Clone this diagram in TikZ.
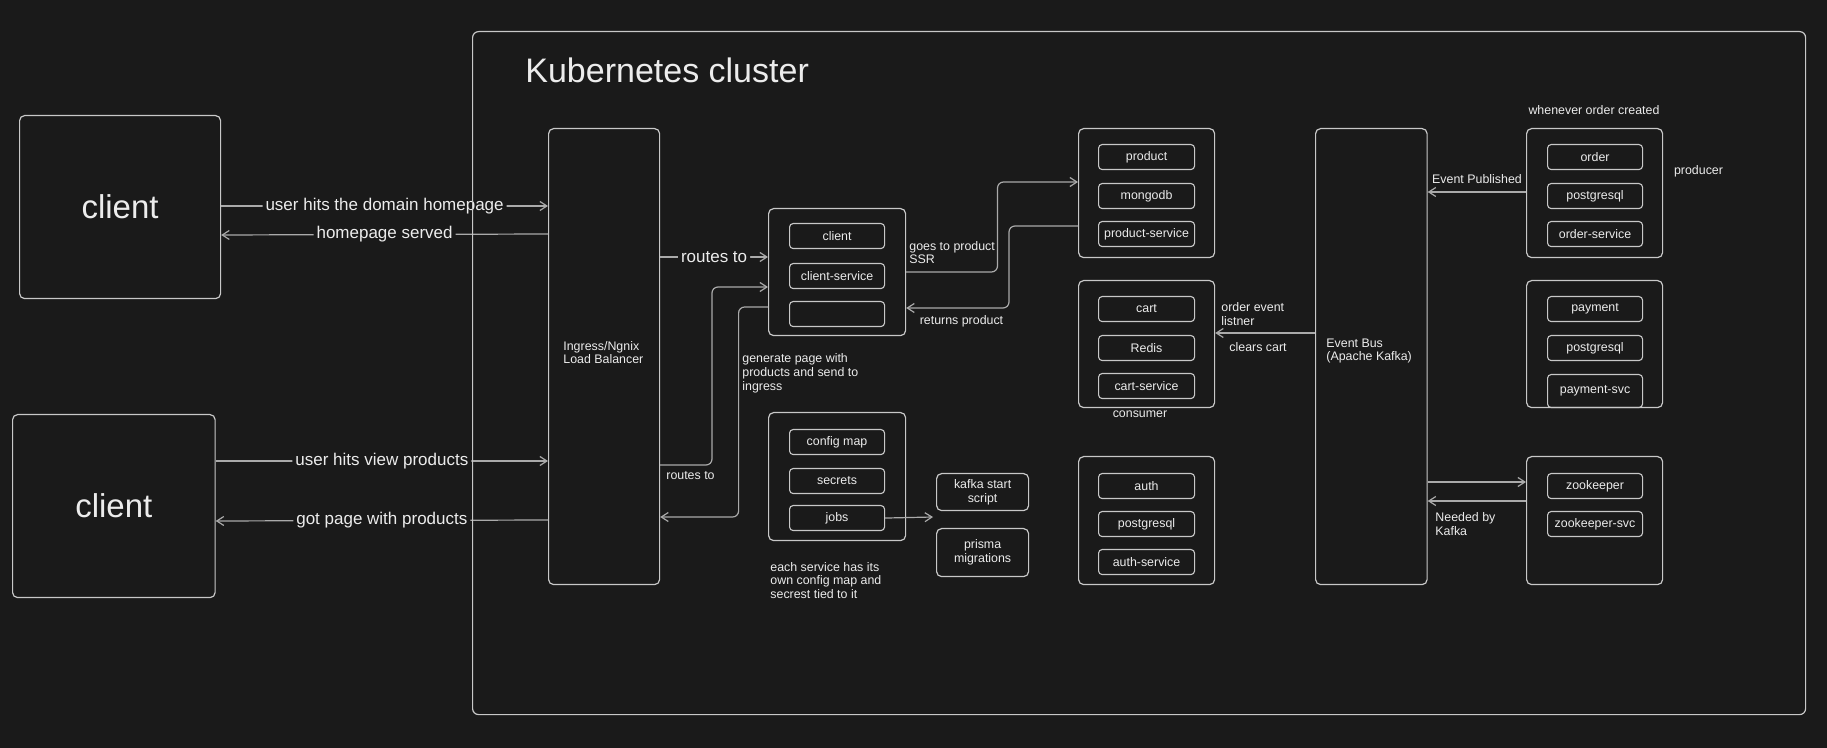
\documentclass[tikz,border=0pt]{standalone}
\usepackage{fontspec}
\setmainfont{Liberation Sans}
\usetikzlibrary{arrows.meta}
\definecolor{bg}{RGB}{26,26,26}
\definecolor{linec}{RGB}{200,200,200}
\definecolor{arrc}{RGB}{170,170,170}
\definecolor{txtc}{RGB}{236,236,236}
\newcommand{\mybox}[7]{\node[#1, anchor=north west, minimum width=#5*0.5pt, minimum height=#6*0.5pt] (#2) at (#3,#4) {#7};}
\begin{document}
\begin{tikzpicture}[x=0.5pt,y=-0.5pt,
  grp/.style={draw=linec, line width=0.6pt, rounded corners=2.5pt, inner sep=0pt, text=txtc, font=\fontsize{6.2}{6.9}\selectfont, align=center},
  inbox/.style={draw=linec, line width=0.55pt, rounded corners=1.8pt, inner sep=0pt, text=txtc, font=\fontsize{6.2}{6.9}\selectfont},
  bigtxt/.style={grp, font=\fontsize{16.5}{19}\selectfont},
  arr/.style={draw=arrc, line width=0.6pt, -{Straight Barb[length=3.5pt,width=4.5pt]}, rounded corners=3pt},
  lab/.style={text=txtc, font=\fontsize{8.5}{10}\selectfont, fill=bg, inner sep=1.5pt},
  small/.style={text=txtc, font=\fontsize{6.2}{6.9}\selectfont, inner sep=0pt, align=left}]
\useasboundingbox (0,0) rectangle (1827,748);
\fill[bg] (0,0) rectangle (1827,748);

% title
\node[anchor=base west, text=txtc, font=\fontsize{17}{20}\selectfont, inner sep=0pt] (title) at (525,83) {Kubernetes cluster};

% clients
\mybox{bigtxt}{client1}{19}{115}{201}{183}{client}
\mybox{bigtxt}{client2}{12}{414}{202.5}{183}{client}

% ingress
\mybox{grp}{ingress}{548}{128}{111}{456}{}
\node[small, anchor=west] (ingtxt) at (563,352.5) {Ingress/Ngnix\\Load Balancer};

% client group
\mybox{grp}{cgrp}{768}{208}{137}{127}{}
\mybox{inbox}{cclient}{789}{223}{95}{25}{client}
\mybox{inbox}{csvc}{789}{263}{95}{25}{client-service}
\mybox{inbox}{cempty}{789}{301}{95}{25}{}

% config group
\mybox{grp}{cfg}{768}{412}{137}{128}{}
\mybox{inbox}{cfgmap}{789}{429}{95}{25}{config map}
\mybox{inbox}{secrets}{789}{468}{95}{25}{secrets}
\mybox{inbox}{jobs}{789}{505}{95}{25}{jobs}
\node[small, anchor=west] (cfgnote) at (770,580.5) {each service has its\\own config map and\\secrest tied to it};

% kafka script / prisma
\mybox{grp}{kscript}{936}{473}{92}{37}{kafka start\\script}
\mybox{grp}{prisma}{936}{528}{92}{48}{prisma\\migrations}

% product group
\mybox{grp}{pgrp}{1078}{128}{136}{129}{}
\mybox{inbox}{product}{1098}{144}{96}{25}{product}
\mybox{inbox}{mongodb}{1098}{183}{96}{25}{mongodb}
\mybox{inbox}{psvc}{1098}{221}{96}{25}{product-service}

% cart group
\mybox{grp}{cartgrp}{1078}{280}{136}{127}{}
\mybox{inbox}{cart}{1098}{296}{96}{25}{cart}
\mybox{inbox}{redis}{1098}{335}{96}{25}{Redis}
\mybox{inbox}{cartsvc}{1098}{373}{96}{25}{cart-service}
\node[small] (consumer) at (1140,414) {consumer};

% auth group
\mybox{grp}{authgrp}{1078}{456}{136}{128}{}
\mybox{inbox}{auth}{1098}{473}{96}{25}{auth}
\mybox{inbox}{authpg}{1098}{511}{96}{25}{postgresql}
\mybox{inbox}{authsvc}{1098}{549}{96}{25}{auth-service}

% event bus
\mybox{grp}{bus}{1315}{128}{111.5}{456}{}
\node[small, anchor=west] (bustxt) at (1326,351) {Event Bus\\(Apache Kafka)};

% order group
\mybox{grp}{ogrp}{1526}{128}{136}{129}{}
\mybox{inbox}{order}{1547}{144}{95}{25}{order}
\mybox{inbox}{orderpg}{1547}{183}{95}{25}{postgresql}
\mybox{inbox}{ordersvc}{1547}{221}{95}{25}{order-service}
\node[small] (whenever) at (1594,110) {whenever order created};
\node[small] (producer) at (1698.5,171) {producer};

% payment group
\mybox{grp}{paygrp}{1526}{280}{136}{127}{}
\mybox{inbox}{payment}{1547}{296}{95}{25}{payment}
\mybox{inbox}{paypg}{1547}{335}{95}{25}{postgresql}
\mybox{inbox}{paysvc}{1547}{374}{95}{33}{payment-svc}

% zookeeper group
\mybox{grp}{zkgrp}{1526}{456}{136}{128}{}
\mybox{inbox}{zk}{1547}{473}{95}{25}{zookeeper}
\mybox{inbox}{zksvc}{1547}{511}{95}{25}{zookeeper-svc}

% connectors: clients <-> ingress
\draw[arr] (client1.east |- 0,206) -- (ingress.west |- 0,206) node[midway, lab] {user hits the domain homepage};
\draw[arr] (ingress.west |- 0,234) -- (client1.east |- 0,235) node[midway, lab] {homepage served};
\draw[arr] (client2.east |- 0,461) -- (ingress.west |- 0,461) node[midway, lab] {user hits view products};
\draw[arr] (ingress.west |- 0,520) -- (client2.east |- 0,521) node[midway, lab] {got page with products};

% ingress <-> client group
\draw[arr] (ingress.east |- 0,257) -- (cgrp.west |- 0,257) node[midway, lab] {routes to};
\draw[arr] (ingress.east |- 0,465) -- (712,465) -- (712,287) -- (cgrp.west |- 0,287);
\node[small] (routes2) at (690.5,476) {routes to};
\draw[arr] (cgrp.west |- 0,307) -- (738.6,307) -- (738.6,517) -- (ingress.east |- 0,517);
\node[small, anchor=west] (genpage) at (742,373.5) {generate page with\\products and send to\\ingress};

% client group <-> product group
\draw[arr] (cgrp.east |- 0,272) -- (997.5,272) -- (997.5,182) -- (pgrp.west |- 0,182);
\node[small, anchor=west] (goesto) at (909,252.5) {goes to product\\SSR};
\draw[arr] (pgrp.west |- 0,226) -- (1009,226) -- (1009,308) -- (cgrp.east |- 0,308);
\node[small] (returns) at (961.5,321) {returns product};

% jobs
\coordinate (jobsend) at (933,517);
\draw[arr] (jobs.east) -- (jobsend);

% bus <-> services
\draw[arr] (bus.west |- 0,333) -- (cartgrp.east |- 0,333);
\node[small, anchor=west] (orderevt) at (1221,314) {order event\\listner};
\node[small] (clears) at (1258,347) {clears cart};
\draw[arr] (ogrp.west |- 0,192) -- (bus.east |- 0,192);
\node[small] (evpub) at (1477,179) {Event Published};
\draw[arr] (bus.east |- 0,482) -- (zkgrp.west |- 0,482);
\draw[arr] (zkgrp.west |- 0,501) -- (bus.east |- 0,501);
\node[small, anchor=west] (needed) at (1435,524) {Needed by\\Kafka};

% cluster frame (drawn last, like the reference)
\node[draw=linec, line width=0.6pt, rounded corners=3pt, anchor=north west, minimum width=1333*0.5pt, minimum height=683*0.5pt, inner sep=0pt] (cluster) at (472,31) {};
\end{tikzpicture}
\end{document}
